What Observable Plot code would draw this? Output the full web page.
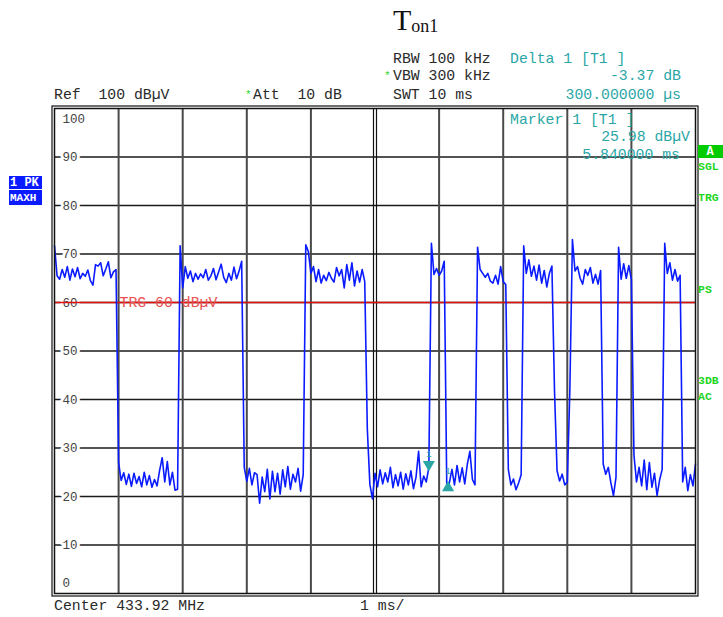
<!DOCTYPE html>
<html><head><meta charset="utf-8">
<script src="https://cdn.jsdelivr.net/npm/d3@7"></script>
<script src="https://cdn.jsdelivr.net/npm/@observablehq/plot@0.6"></script>
<style>
html,body{margin:0;padding:0;background:#fff;}
#chart{position:relative;width:723px;height:617px;overflow:hidden;}
</style></head><body><div id="chart"></div>
<script>
// ---- data ----
const sweepTimeMs = 10;
const sweepStepMs = 0.04;            // trace sample spacing (ms)
const traceLevel = [                  // dBµV
  71.7,65.5,64.8,66.8,65.2,67.4,64.6,66.9,65.3,67.2,
  64.9,66.0,65.4,66.7,64.5,63.6,67.8,67.5,68.2,65.5,
  66.9,68.4,65.1,66.3,66.8,27.0,23.3,24.9,22.5,24.6,
  22.1,24.8,22.7,24.1,22.0,25.0,22.4,24.3,21.9,23.5,
  22.2,25.4,28.0,23.0,27.2,22.4,25.0,21.3,21.5,71.7,
  63.0,67.4,65.0,66.5,64.3,66.0,64.8,65.9,65.1,66.8,
  64.6,65.5,67.0,64.7,66.3,67.9,65.2,64.1,66.0,64.6,
  67.3,64.9,66.5,68.5,26.0,23.1,25.8,22.4,24.9,24.5,
  18.6,24.0,21.0,25.6,19.5,25.2,21.0,24.8,20.5,25.5,
  22.0,26.2,21.5,24.6,23.0,25.8,21.1,24.5,71.9,70.5,
  66.0,67.4,64.3,66.8,64.0,65.6,64.5,66.2,65.0,64.2,
  67.2,65.5,66.8,63.0,67.8,64.6,68.2,63.4,66.5,64.2,
  66.8,64.3,34.0,22.5,19.5,24.8,22.0,25.5,22.6,24.9,
  23.0,26.0,21.8,24.5,22.2,25.0,21.5,24.7,22.4,25.3,
  21.6,24.0,29.3,22.0,24.2,23.0,25.98,72.2,65.8,67.0,
  65.6,66.5,68.5,21.6,22.8,25.6,22.4,26.4,23.0,25.9,
  22.6,26.6,29.3,23.5,22.4,71.4,66.8,66.0,65.2,66.0,
  64.4,64.0,65.6,63.8,67.4,64.3,63.7,25.6,22.4,23.6,
  21.4,22.8,24.5,71.7,66.0,68.8,65.4,67.5,64.6,67.7,
  64.0,66.6,63.2,66.0,67.5,42.0,25.3,23.2,24.6,22.4,
  23.0,42.0,73.0,66.5,67.4,65.0,63.8,66.8,65.6,67.2,
  64.0,65.8,63.8,66.6,26.7,24.6,26.0,22.8,20.2,24.0,
  71.4,64.8,68.0,65.0,67.6,64.7,28.5,23.0,26.0,22.2,
  27.5,21.4,27.0,21.9,24.8,20.2,23.4,25.6,72.2,66.0,
  68.2,64.6,66.8,64.4,65.6,23.0,26.0,21.2,24.5,22.2,
  26.7
];
const gridTimes = [1,2,3,4,6,7,8,9];
const centerTime = 5;
const gridLevels = [10,20,30,40,50,60,70,80,90];
const levelLabels = [10,20,30,40,50,60,70,80,90];
const triggerLevel = 60;
const triggerLabel = "TRG 60 dBµV";
const markerTimes = [5.84, 6.14];
const markerLevels = [25.98, 22.61];
const markerKinds = ["marker", "delta"];

const headerLines = [
  {text:"RBW 100 kHz", x:393, y:63, c:"ink"},
  {text:"Delta 1 [T1 ]", x:510, y:63, c:"teal"},
  {text:"VBW 300 kHz", x:393, y:80, c:"ink"},
  {text:"-3.37 dB", x:681, y:80, c:"teal", a:"end"},
  {text:"Ref  100 dBµV", x:54, y:99, c:"ink"},
  {text:"Att  10 dB", x:253, y:99, c:"ink"},
  {text:"SWT 10 ms", x:393, y:99, c:"ink"},
  {text:"300.000000 µs", x:681, y:99, c:"teal", a:"end"},
  {text:"Marker 1 [T1 ]", x:510, y:124, c:"teal"},
  {text:"25.98 dBµV", x:690, y:141, c:"teal", a:"end"},
  {text:"5.840000 ms", x:680, y:159, c:"teal", a:"end"},
  {text:"Center 433.92 MHz", x:54, y:610, c:"ink"},
  {text:"1 ms/", x:360, y:610, c:"ink"}
];
const sideRight = [
  {text:"SGL", y:170}, {text:"TRG", y:201}, {text:"PS", y:293},
  {text:"3DB", y:384}, {text:"AC", y:400}
];

// ---- drawing ----
const ink = "#2a2a2a", teal = "#2aa6a6", green = "#1fd61f", blue = "#0a1cff";
const mono = "'Liberation Mono', 'DejaVu Sans Mono', monospace";
const trace = traceLevel.map((v, i) => ({t: i * sweepStepMs, v}));
const markers = markerTimes.map((t, i) => ({t, v: markerLevels[i], kind: markerKinds[i]}));

const svg = Plot.plot({
  width: 723, height: 617,
  marginTop: 108, marginRight: 28, marginBottom: 24, marginLeft: 54,
  x: {domain: [0, sweepTimeMs], axis: null},
  y: {domain: [0, 100], axis: null},
  style: {background: "white", fontFamily: mono, overflow: "visible"},
  marks: [
    Plot.ruleY(gridLevels, {stroke: "#1a1a1a", strokeWidth: 1.3}),
    Plot.ruleX(gridTimes, {stroke: "#4a4a4a", strokeWidth: 2}),
    Plot.ruleX([centerTime], {stroke: "#111", strokeWidth: 1.2, dx: -1.5}),
    Plot.ruleX([centerTime], {stroke: "#111", strokeWidth: 1.2, dx: 1.5}),
    Plot.text(levelLabels, {x: 0, y: d => d, text: d => String(d), textAnchor: "start", dx: 8,
      fill: "#444", stroke: "white", strokeWidth: 6, paintOrder: "stroke", fontSize: 12.5}),
    Plot.text([100], {x: 0, y: d => d, text: d => String(d), textAnchor: "start", dx: 8, dy: 10, fill: "#444", fontSize: 12.5}),
    Plot.text([0], {x: 0, y: d => d, text: d => String(d), textAnchor: "start", dx: 8, dy: -11, fill: "#444", fontSize: 12.5}),
    Plot.ruleY([triggerLevel], {stroke: "#e01010", strokeWidth: 1.6}),
    Plot.text([triggerLabel], {x: 1, y: triggerLevel, text: d => d, textAnchor: "start", dx: 1, fill: "#e85050", fontSize: 14.8}),
    Plot.line(trace, {x: "t", y: "v", stroke: blue, strokeWidth: 1.6}),
    Plot.dot(markers.filter(d => d.kind === "marker"), {x: "t", y: "v", symbol: "triangle", rotate: 180, r: 4.5, fill: teal, dy: -3}),
    Plot.dot(markers.filter(d => d.kind === "delta"), {x: "t", y: "v", symbol: "triangle", r: 4.5, fill: teal, dy: 4}),
    Plot.text(markers, {x: "t", y: "v", text: () => "1", fill: teal, fontSize: 9, dy: -13}),
    Plot.frame({stroke: "#111", strokeWidth: 1.5}),
    Plot.frame({stroke: "#111", strokeWidth: 1.2, inset: -2.5})
  ]
});

const g = d3.select(svg).append("g").attr("font-family", mono).attr("text-anchor", "start");
// title
const title = g.append("text").attr("x", 393).attr("y", 30)
  .attr("font-family", "'Liberation Serif', 'Times New Roman', serif").attr("fill", "#111");
title.append("tspan").attr("font-size", 30).text("T");
title.append("tspan").attr("font-size", 18).attr("dy", 2).text("on1");
// header / footer lines
g.selectAll("text.hdr").data(headerLines).join("text").attr("class", "hdr")
  .attr("x", d => d.x).attr("y", d => d.y).attr("font-size", 14.8)
  .attr("text-anchor", d => d.a || "start")
  .attr("fill", d => d.c === "teal" ? teal : ink)
  .style("white-space", "pre").text(d => d.text);
// green asterisks
g.append("text").attr("x", 384).attr("y", 79).attr("font-size", 11).attr("fill", green).text("*");
g.append("text").attr("x", 245).attr("y", 98).attr("font-size", 11).attr("fill", green).text("*");
// left trace box
g.append("rect").attr("x", 9).attr("y", 176).attr("width", 33).attr("height", 13).attr("fill", blue);
g.append("rect").attr("x", 9).attr("y", 190).attr("width", 33).attr("height", 15).attr("fill", blue);
g.append("text").attr("x", 10).attr("y", 186).attr("font-size", 12).attr("font-weight", "bold").attr("fill", "white").style("white-space", "pre").text("1 PK");
g.append("text").attr("x", 10).attr("y", 201).attr("font-size", 11).attr("font-weight", "bold").attr("fill", "white").text("MAXH");
// right status
g.append("rect").attr("x", 698).attr("y", 145).attr("width", 25).attr("height", 13).attr("fill", "#00cc00");
g.append("text").attr("x", 710).attr("y", 155).attr("text-anchor", "middle").attr("font-size", 12).attr("font-weight", "bold").attr("fill", "white").text("A");
g.selectAll("text.side").data(sideRight).join("text").attr("class", "side")
  .attr("x", 698).attr("y", d => d.y).attr("font-size", 11.5).attr("font-weight", "bold")
  .attr("fill", green).text(d => d.text);

document.getElementById("chart").appendChild(svg);
</script>
</body></html>
